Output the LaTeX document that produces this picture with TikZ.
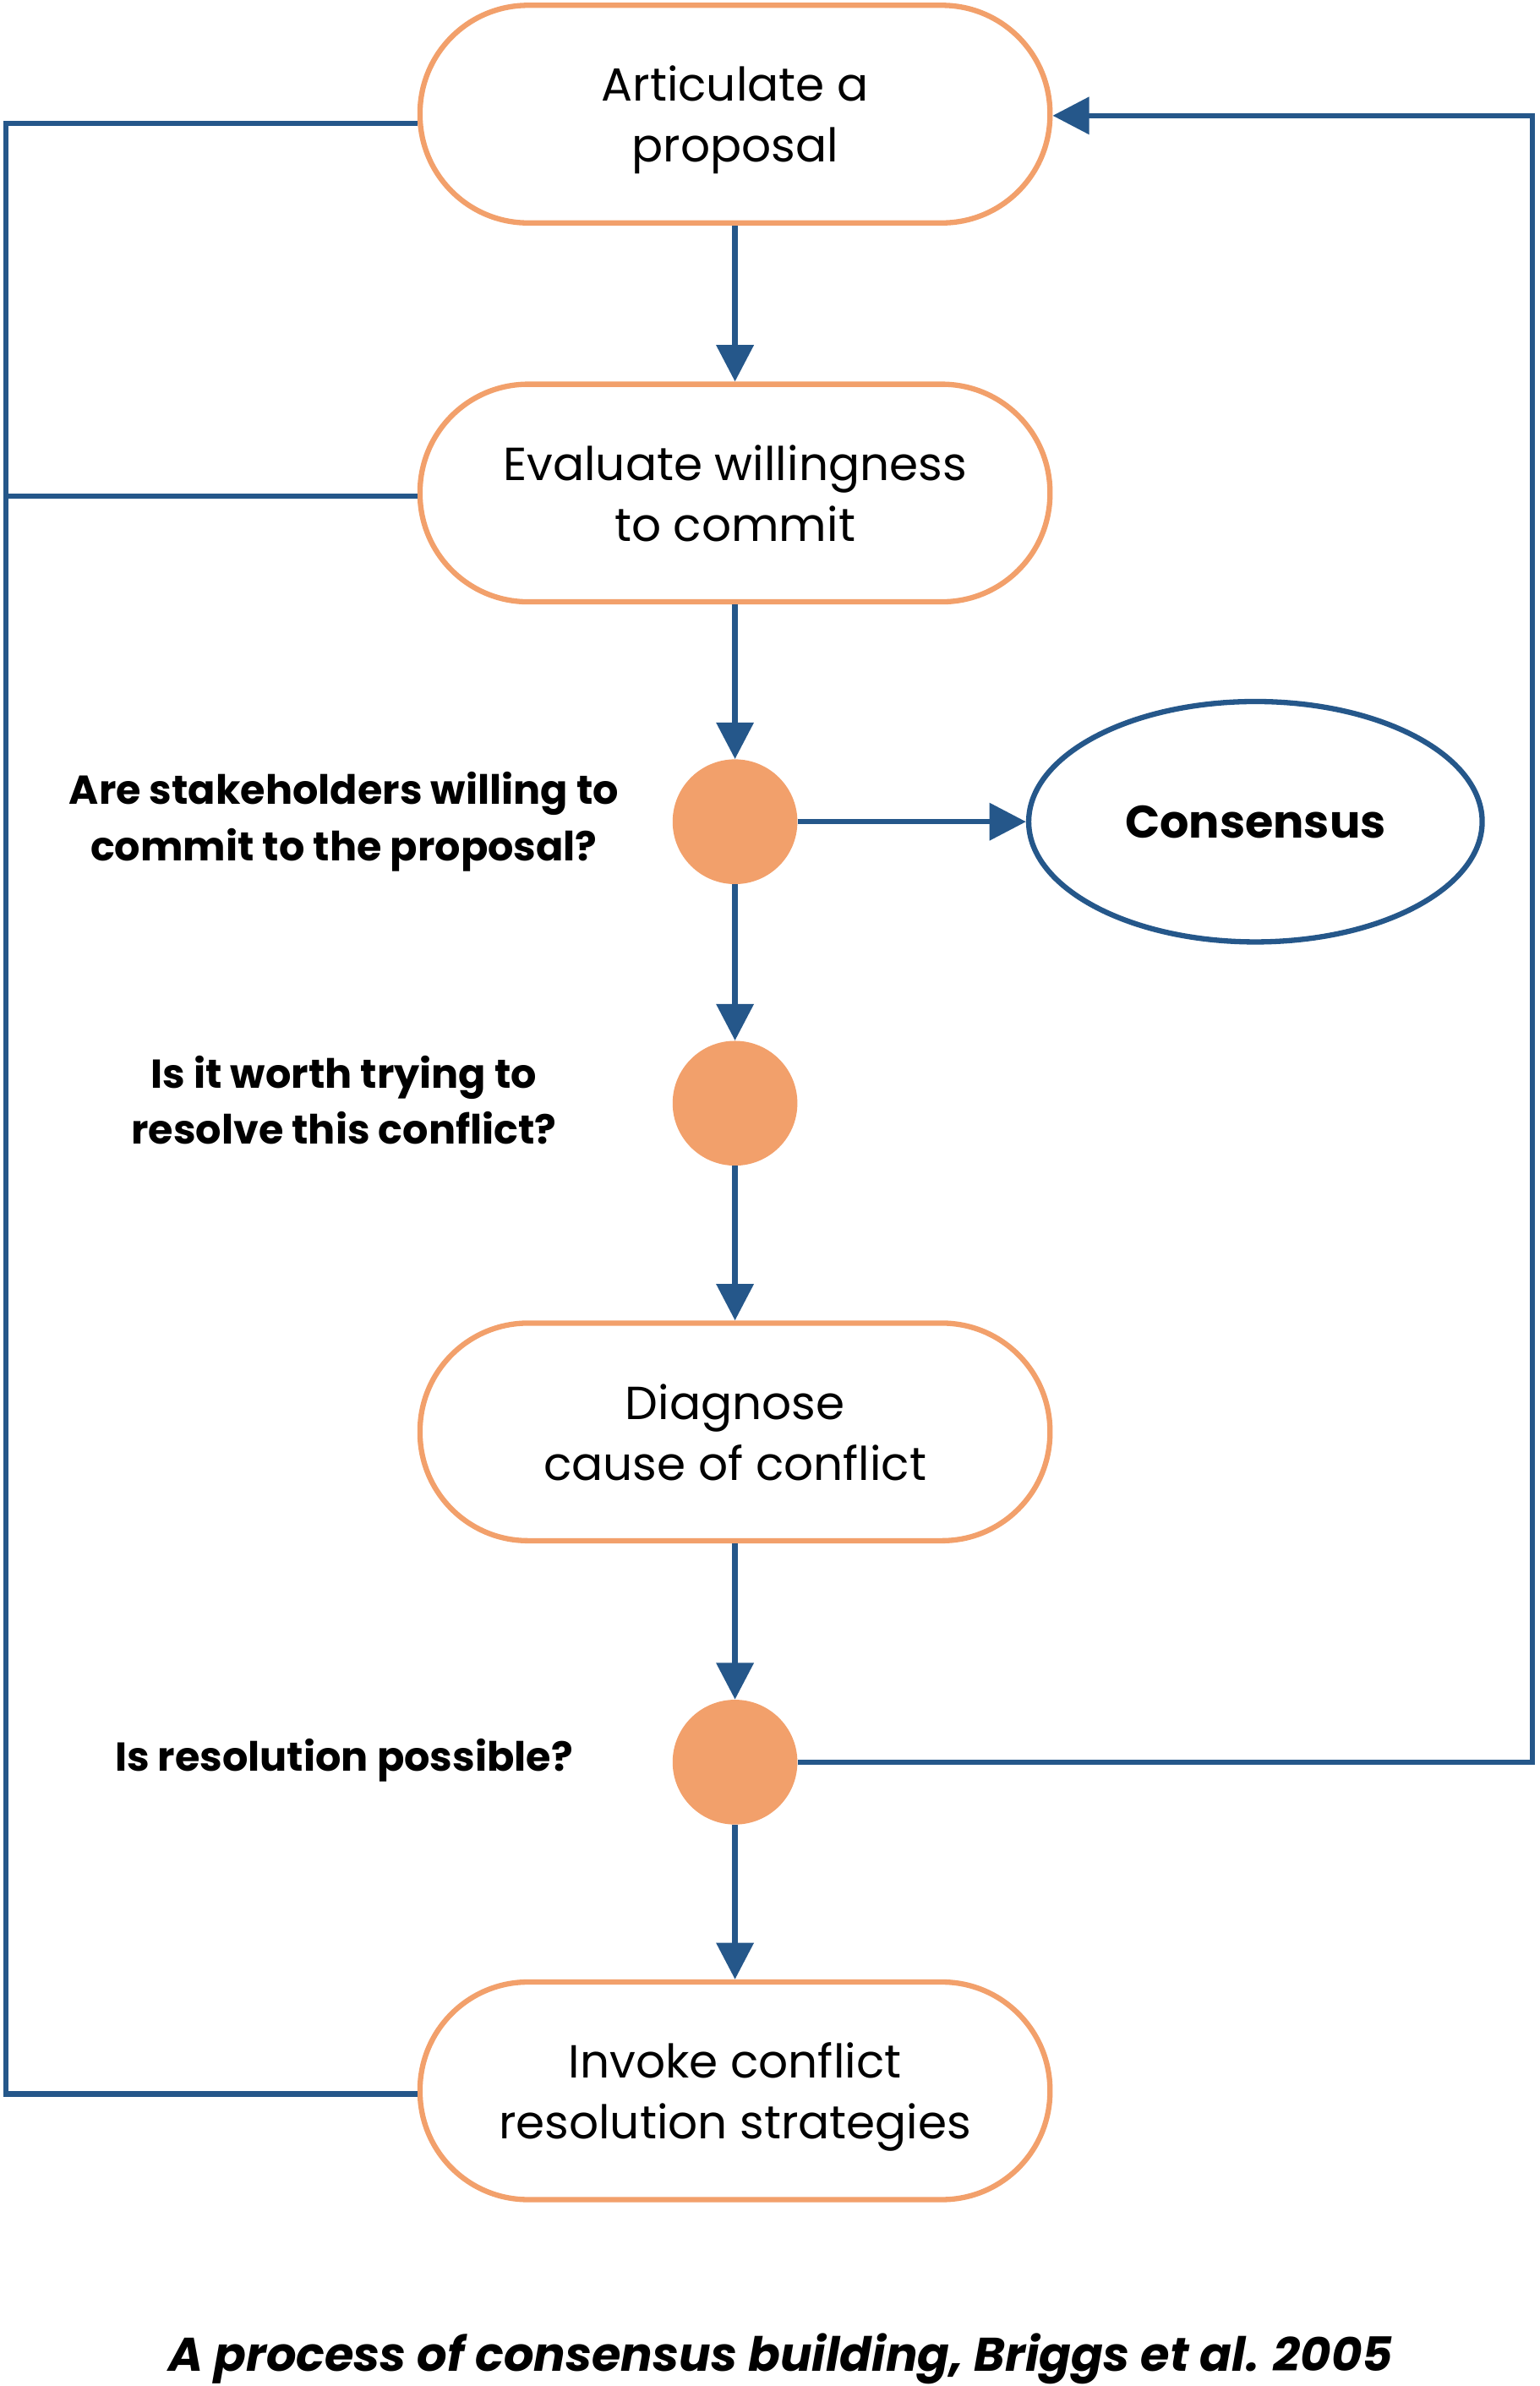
\documentclass[tikz,border=0pt]{standalone}
\usepackage{fontspec}
\setmainfont{Poppins}
\usetikzlibrary{arrows.meta,shapes.geometric}
\definecolor{org}{HTML}{F2A06B}
\definecolor{blu}{HTML}{25578A}
\begin{document}
\begin{tikzpicture}[x=1pt,y=-1pt,
  stadium/.style={draw=org,line width=3.5pt,rounded corners=71pt,minimum width=414pt,minimum height=143pt,align=center,text depth=0pt,font=\fontsize{30.5}{40}\selectfont},
  dot/.style={circle,fill=org,minimum size=82pt,inner sep=0},
  lab/.style={align=center,font=\fontsize{26.5}{37}\selectfont\bfseries},
  con/.style={draw=blu,line width=3.5pt},
  arr/.style={con,-{Triangle[length=24pt,width=24pt]}}]
\useasboundingbox (0,0) rectangle (1012,1568);
\node[stadium] (b1) at (483,75) {Articulate a\\proposal};
\node[stadium] (b2) at (483,324) {Evaluate willingness\\to commit};
\node[dot] (c1) at (483,540) {};
\node[draw=blu,line width=3.5pt,ellipse,minimum width=298pt,minimum height=158pt,font=\fontsize{30}{36}\selectfont\bfseries] (cons) at (825,540) {Consensus};
\node[dot] (c2) at (483,725) {};
\node[stadium] (b3) at (483,941) {Diagnose\\cause of conflict};
\node[dot] (c3) at (483,1158) {};
\node[stadium] (b4) at (483,1374) {Invoke conflict\\resolution strategies};
\node[lab] (l1) at (226,540) {Are stakeholders willing to\\commit to the proposal?};
\node[lab] (l2) at (226,723) {Is it worth trying to\\resolve this conflict?};
\node[lab] (l3) at (226,1157) {Is resolution possible?};
\node[font=\fontsize{31}{36}\selectfont\bfseries\itshape] (cap) at (513,1550) {A process of consensus building, Briggs et al. 2005};
\draw[arr] (b1) -- (b2);
\draw[arr] (b2) -- (c1);
\draw[arr] (c1) -- (cons);
\draw[arr] (c1) -- (c2);
\draw[arr] (c2) -- (b3);
\draw[arr] (b3) -- (c3);
\draw[arr] (c3) -- (b4);
\coordinate (L1) at (4,81);
\coordinate (L2) at (4,326);
\coordinate (L3) at (4,1376);
\draw[con] (b1.west |- L1) -- (L1) -- (L3) -- (b4.west |- L3);
\draw[con] (L2) -- (b2.west |- L2);
\coordinate (R1) at (1007,1158);
\coordinate (R2) at (1007,76);
\draw[arr] (c3.east) -- (R1) -- (R2) -- (b1.east |- R2);
\end{tikzpicture}
\end{document}
